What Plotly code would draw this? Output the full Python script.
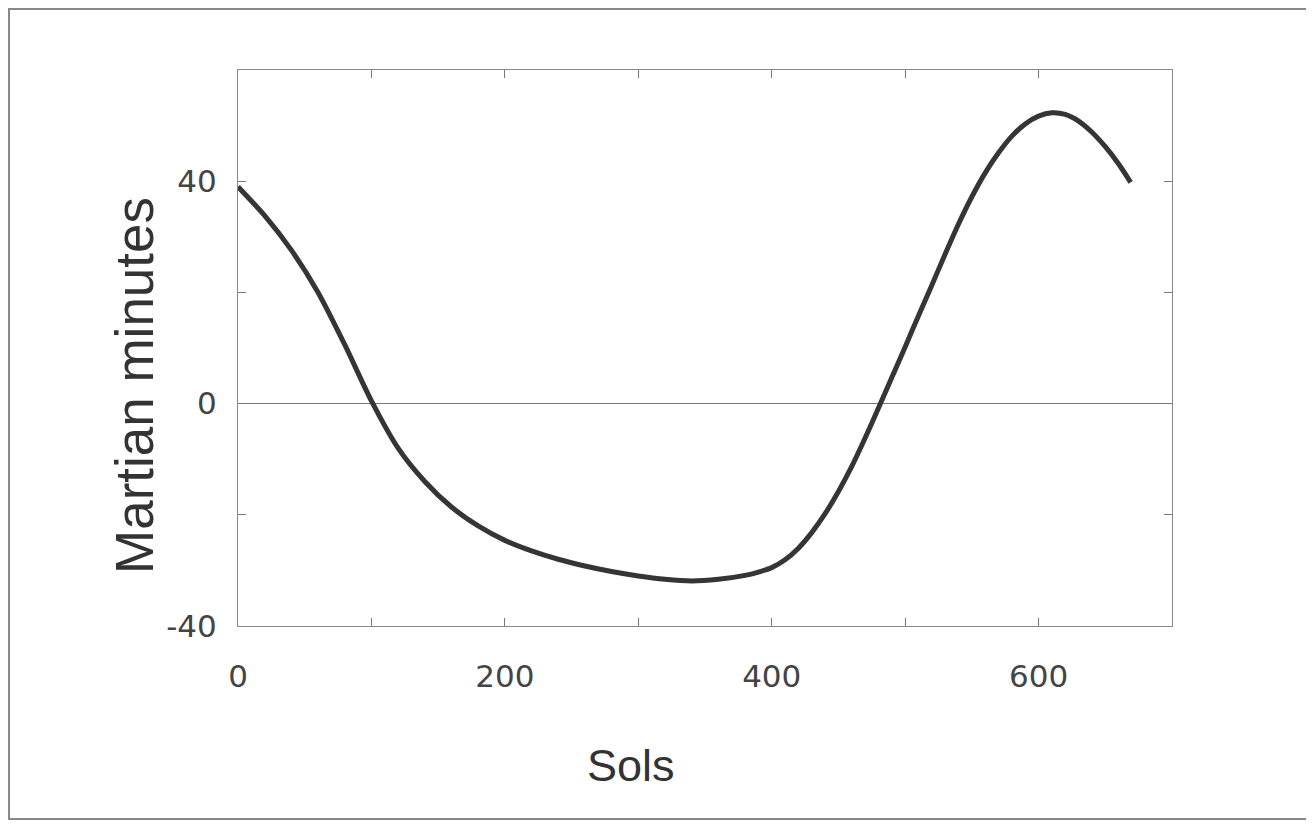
import plotly.graph_objects as go

# Data
sols = [0, 20, 40, 60, 80, 100, 120, 140, 160, 180, 200, 220, 240, 260, 280, 300, 320,
        340, 360, 380, 390, 400, 410, 420, 430, 440, 450, 460, 470, 480, 490, 500, 510,
        520, 530, 540, 550, 560, 570, 580, 590, 600, 610, 620, 630, 640, 650, 660, 669]
minutes = [39, 33.8, 27.6, 20, 10.6, 0.5, -8, -14, -18.6, -22.0, -24.6, -26.5, -28,
           -29.2, -30.2, -31, -31.6, -31.9, -31.6, -30.9, -30.3, -29.5, -28.1, -26,
           -23.2, -19.8, -15.8, -11.3, -6.2, -0.8, 4.7, 10.2, 15.8, 21.3, 26.9, 32.3,
           37.2, 41.5, 45.1, 48.1, 50.3, 51.7, 52.3, 52, 50.8, 48.8, 46.2, 43.1, 39.8]

x_tickvals = [0, 100, 200, 300, 400, 500, 600, 700]
x_ticktext = ["0", "", "200", "", "400", "", "600", ""]
y_tickvals = [-40, -20, 0, 20, 40, 60]
y_ticktext = ["-40", "", "0", "", "40", ""]

# page body has an 8px margin; positions below are figure pixels
W, H = 1306, 812
L, R, T, B = 230, 1164, 62, 618

def px(xp):
    return (xp - L) / (R - L)

def py(yp):
    return (B - yp) / (B - T)

fig = go.Figure()
fig.add_trace(go.Scatter(x=sols, y=minutes, mode="lines",
                         line=dict(color="#353535", width=5, shape="spline", smoothing=0.8),
                         hoverinfo="skip", showlegend=False))

tickfont = dict(family="DejaVu Sans", size=31, color="#444444")
fig.update_layout(
    width=W, height=H,
    margin=dict(l=L, r=W - R, t=T, b=H - B),
    paper_bgcolor="white", plot_bgcolor="white",
    xaxis=dict(range=[0, 700], tickvals=x_tickvals, ticktext=x_ticktext,
               ticks="inside", ticklen=8, tickcolor="#777", tickwidth=1,
               showline=True, linecolor="#888", linewidth=1, mirror="ticks",
               showgrid=False, zeroline=False, tickfont=tickfont,
               ticklabelstandoff=23),
    yaxis=dict(range=[-40, 60], tickvals=y_tickvals, ticktext=y_ticktext,
               ticks="inside", ticklen=8, tickcolor="#777", tickwidth=1,
               showline=True, linecolor="#888", linewidth=1, mirror="ticks",
               showgrid=False, zeroline=True, zerolinecolor="#777", zerolinewidth=1,
               tickfont=tickfont, ticklabelstandoff=14),
    shapes=[dict(type="rect", xref="paper", yref="paper",
                 x0=px(1), x1=px(1303), y0=py(811), y1=py(1),
                 line=dict(color="#888", width=2), fillcolor="rgba(0,0,0,0)", layer="below")],
    annotations=[
        dict(text="Sols", xref="paper", yref="paper", x=px(623), y=py(757),
             showarrow=False, xanchor="center", yanchor="middle",
             font=dict(family="Liberation Sans", size=45, color="#333333")),
        dict(text="Martian minutes", xref="paper", yref="paper", x=px(126), y=py(378),
             showarrow=False, xanchor="center", yanchor="middle", textangle=-90,
             font=dict(family="Liberation Sans", size=53, color="#333333")),
    ],
)

fig.write_html("out.html")
